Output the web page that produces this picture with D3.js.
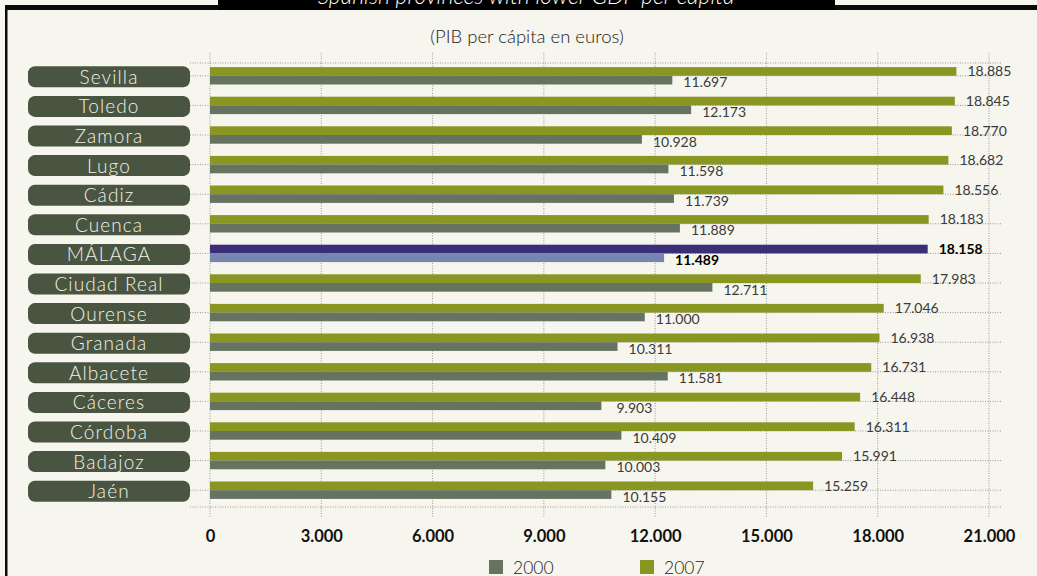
<!DOCTYPE html>
<html>
<head>
<meta charset="utf-8">
<script src="https://cdn.jsdelivr.net/npm/d3@7/dist/d3.min.js"></script>
<style>
  html, body { margin: 0; padding: 0; background: #f6f5ee; }
  svg { display: block; font-family: Lato, "Open Sans", sans-serif; }
</style>
</head>
<body>
<div id="chart"></div>
<script>
// PIB per cápita (euros), provincias con menor PIB
const provinces = ['Sevilla', 'Toledo', 'Zamora', 'Lugo', 'Cádiz', 'Cuenca', 'MÁLAGA',
  'Ciudad Real', 'Ourense', 'Granada', 'Albacete', 'Cáceres', 'Córdoba', 'Badajoz', 'Jaén'];
const gdp2000 = [11697, 12173, 10928, 11598, 11739, 11889, 11489,
  12711, 11000, 10311, 11581, 9903, 10409, 10003, 10155];
const gdp2007 = [18885, 18845, 18770, 18682, 18556, 18183, 18158,
  17983, 17046, 16938, 16731, 16448, 16311, 15991, 15259];
const ticks = [0, 3000, 6000, 9000, 12000, 15000, 18000, 21000];
const highlight = 'MÁLAGA';

const W = 1037, H = 576;
const fmt = (v) => d3.format(',')(v).replace(/,/g, '.');

const svg = d3.select('#chart').append('svg')
  .attr('width', W).attr('height', H);

// fondo y marco
svg.append('rect').attr('width', W).attr('height', H).attr('fill', '#f6f5ee');
svg.append('rect').attr('x', 5).attr('y', 5).attr('width', W - 5).attr('height', 5).attr('fill', '#0a0a0a');
svg.append('rect').attr('x', 5).attr('y', 5).attr('width', 2.5).attr('height', H).attr('fill', '#0a0a0a');
svg.append('rect').attr('x', 218).attr('y', 0).attr('width', 617).attr('height', 10).attr('fill', '#000');
svg.append('text')
  .attr('x', 526).attr('y', 4)
  .attr('text-anchor', 'middle')
  .attr('font-size', 23).attr('font-style', 'italic').attr('font-weight', 300)
  .attr('fill', '#fff')
  .text('Spanish provinces with lower GDP  per capita');

svg.append('text')
  .attr('x', 527).attr('y', 43)
  .attr('text-anchor', 'middle')
  .attr('font-size', 18.5).attr('font-weight', 300).attr('fill', '#222')
  .text('(PIB per cápita en euros)');

// escalas: el eje va de 0 a 21.000, las barras van algo estiradas como en el original
const x = d3.scaleLinear().domain([0, 21000]).range([210, 989]);
const xBar = d3.scaleLinear().domain([0, 21000]).range([210, 1040]);
const y = d3.scaleBand().domain(provinces).range([61, 505]);
const barH = 8.7;
const yc = (p) => y(p) + y.bandwidth() / 2;

const grid = svg.append('g')
  .attr('stroke', '#9a9a9a').attr('stroke-width', 1).attr('stroke-dasharray', '1,1.5');

grid.selectAll('line.v').data(ticks).join('line')
  .attr('class', 'v')
  .attr('x1', (d) => x(d)).attr('x2', (d) => x(d))
  .attr('y1', 53).attr('y2', 518);

grid.selectAll('line.h').data(provinces).join('line')
  .attr('class', 'h')
  .attr('x1', 190).attr('x2', 1001)
  .attr('y1', (d) => yc(d)).attr('y2', (d) => yc(d));

grid.selectAll('line.b').data([63, 507]).join('line')
  .attr('class', 'b')
  .attr('x1', 190).attr('x2', 1001)
  .attr('y1', (d) => d).attr('y2', (d) => d);

// etiquetas de provincia
const pills = svg.append('g').selectAll('g').data(provinces).join('g')
  .attr('transform', (d) => `translate(28,${yc(d) + 1})`);
pills.append('rect')
  .attr('x', 0).attr('y', -10.5).attr('width', 162).attr('height', 21)
  .attr('rx', 7).attr('fill', '#4a5541');
pills.append('text')
  .attr('x', 81).attr('y', 7)
  .attr('text-anchor', 'middle')
  .attr('font-size', 19).attr('font-weight', 300).attr('letter-spacing', 1.1)
  .attr('fill', '#f0f2e8')
  .text((d) => d);

// barras
const rows = provinces.map((p, i) => ({ p, v00: gdp2000[i], v07: gdp2007[i] }));
const bars = svg.append('g');

bars.selectAll('rect.y07').data(rows).join('rect')
  .attr('class', 'y07')
  .attr('x', xBar(0)).attr('y', (d) => yc(d.p) - barH)
  .attr('width', (d) => xBar(d.v07) - xBar(0)).attr('height', barH)
  .attr('fill', (d) => d.p === highlight ? '#3a2e78' : '#8a9622');

bars.selectAll('rect.y00').data(rows).join('rect')
  .attr('class', 'y00')
  .attr('x', xBar(0)).attr('y', (d) => yc(d.p))
  .attr('width', (d) => xBar(d.v00) - xBar(0)).attr('height', barH)
  .attr('fill', (d) => d.p === highlight ? '#7585b0' : '#657360');

const labels = svg.append('g').attr('text-anchor', 'middle').attr('font-size', 14);
labels.selectAll('text.l07').data(rows).join('text')
  .attr('class', 'l07')
  .attr('x', (d) => xBar(d.v07) + 33).attr('y', (d) => yc(d.p) + 0.5)
  .attr('font-weight', (d) => d.p === highlight ? 700 : 400)
  .attr('fill', (d) => d.p === highlight ? '#000' : '#3a3a3a')
  .text((d) => fmt(d.v07));
labels.selectAll('text.l00').data(rows).join('text')
  .attr('class', 'l00')
  .attr('x', (d) => xBar(d.v00) + 33).attr('y', (d) => yc(d.p) + 11.5)
  .attr('font-weight', (d) => d.p === highlight ? 700 : 400)
  .attr('fill', (d) => d.p === highlight ? '#000' : '#3a3a3a')
  .text((d) => fmt(d.v00));

// eje x
const axis = svg.append('g').attr('transform', 'translate(0,542)')
  .call(d3.axisBottom(x).tickValues(ticks).tickSize(0).tickPadding(0).tickFormat(fmt));
axis.select('.domain').remove();
axis.selectAll('text')
  .attr('dy', 0).attr('y', 0)
  .attr('font-family', 'Lato, sans-serif')
  .attr('font-size', 16.5).attr('font-weight', 700).attr('fill', '#111');

// leyenda
const legend = svg.append('g').selectAll('g')
  .data([{ k: '2000', c: '#657360', x: 489 }, { k: '2007', c: '#8a9622', x: 640 }])
  .join('g').attr('transform', (d) => `translate(${d.x},560)`);
legend.append('rect').attr('width', 14).attr('height', 14).attr('fill', (d) => d.c);
legend.append('text').attr('x', 24).attr('y', 14)
  .attr('font-size', 17.5).attr('font-weight', 300).attr('fill', '#222')
  .text((d) => d.k);
</script>
</body>
</html>
